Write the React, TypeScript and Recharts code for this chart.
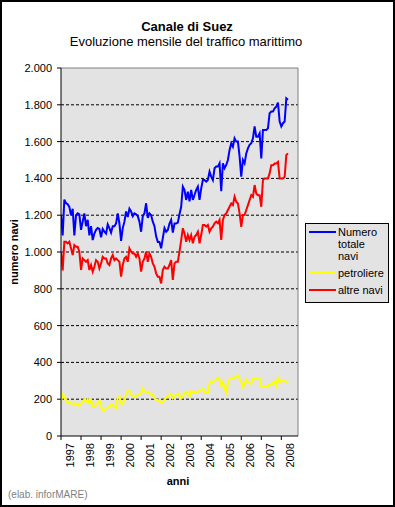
import React from "react";
import { LineChart, Line, XAxis, YAxis, CartesianGrid, ReferenceLine } from "recharts";

const years = ["1997","1998","1999","2000","2001","2002","2003","2004","2005","2006","2007","2008"];
const yTicks = [0, 200, 400, 600, 800, 1000, 1200, 1400, 1600, 1800, 2000];
const gridValues = [200, 400, 600, 800, 1000, 1200, 1400, 1600, 1800];

// Numero totale navi (monthly, Jan 1997 - May 2008)
const totale = [
  1200,1090,1285,1265,1260,1245,1200,1235,1090,1200,1210,1205,
  1120,1165,1210,1140,1175,1090,1140,1065,1100,1120,1130,1125,
  1080,1125,1110,1100,1150,1130,1105,1140,1140,1155,1210,1155,
  1060,1130,1165,1220,1190,1235,1220,1195,1210,1205,1195,1165,
  1110,1195,1210,1265,1185,1210,1200,1165,1140,1085,1055,1055,
  1020,1075,1130,1110,1120,1155,1175,1105,1155,1155,1160,1205,
  1246,1355,1337,1283,1328,1275,1337,1283,1310,1337,1355,1283,
  1346,1391,1391,1382,1391,1437,1410,1391,1455,1464,1464,1482,
  1330,1482,1455,1473,1500,1554,1590,1572,1618,1600,1600,1520,
  1409,1500,1482,1536,1563,1582,1591,1618,1682,1627,1627,1645,
  1509,1663,1663,1663,1672,1754,1763,1763,1781,1790,1812,1709,
  1682,1700,1709,1835,1827
];

// petroliere
const petroliere = [
  187,226,214,199,177,187,177,174,177,172,177,163,
  174,187,199,187,199,177,196,159,159,168,181,192,
  159,141,136,150,154,159,168,168,159,150,210,214,
  177,174,199,232,245,246,223,217,217,217,223,223,
  232,259,246,235,241,232,226,223,205,196,196,190,
  181,183,196,208,217,223,232,205,214,226,232,217,
  205,217,232,237,232,214,246,235,241,235,241,246,
  250,259,237,235,237,286,299,290,301,308,317,304,
  272,295,259,235,283,310,313,313,319,322,331,313,
  295,264,283,308,290,286,283,313,313,313,313,313,
  272,268,268,268,272,283,277,290,295,272,322,290,
  301,301,299,295,286
];

// altre navi
const altre = [
  1000,900,1056,1056,1047,1056,1020,983,1038,1029,1029,1002,
  902,965,956,947,956,902,929,893,920,956,947,911,
  938,974,965,965,938,929,965,983,956,965,956,947,
  866,929,965,974,947,1020,1002,992,992,974,992,965,
  893,947,965,1002,947,992,974,938,920,884,866,866,
  829,902,920,911,911,929,956,848,938,947,947,1002,
  1065,1129,1101,1056,1092,1065,1092,1047,1083,1092,1110,1047,
  1092,1147,1147,1138,1147,1110,1129,1138,1156,1165,1156,1174,
  1065,1174,1201,1210,1228,1246,1264,1255,1301,1273,1264,1210,
  1137,1201,1201,1228,1255,1282,1309,1300,1364,1318,1309,1309,
  1246,1391,1400,1400,1400,1427,1472,1472,1481,1481,1490,1400,
  1400,1400,1409,1527,1536
];

const seriesNames = ["Numero totale navi", "petroliere", "altre navi"];
const seriesKeys = ["totale", "petroliere", "altre"];
const seriesColors = ["#0000FF", "#FFFF00", "#FF0000"];

const data = totale.map((v, i) => ({ m: i, totale: v, petroliere: petroliere[i], altre: altre[i] }));
const xTicks = years.map((_, i) => i * 12);

const FONT = "'Liberation Sans', Arial, sans-serif";

const fmt = (v: number) =>
  v >= 1000 ? `${Math.floor(v / 1000)}.${String(v % 1000).padStart(3, "0")}` : String(v);

const YearTick = (props: any) => {
  const { x, y, payload } = props;
  const label = years[Math.round(payload.value / 12)];
  const tx = x + 13;
  const ty = y;
  return (
    <text x={tx} y={ty} transform={`rotate(-90, ${tx}, ${ty})`} textAnchor="end" fontSize={11} fontFamily={FONT} fill="#000">
      {label}
    </text>
  );
};

export default function App() {
  return (
    <div style={{ position: "absolute", left: 0, top: 0, width: 395, height: 507, background: "#fff", fontFamily: FONT }}>
      <LineChart width={395} height={507} data={data} margin={{ top: 68, right: 97, bottom: 31, left: 0 }}>
        <CartesianGrid
          vertical={false}
          horizontalValues={gridValues}
          fill="#e3e3e3"
          fillOpacity={1}
          stroke="#000"
          strokeDasharray="3 2"
        />
        <ReferenceLine y={2000} stroke="#808080" strokeWidth={1} />
        <ReferenceLine x={142} stroke="#808080" strokeWidth={1} />
        <XAxis
          dataKey="m"
          type="number"
          domain={[0, 142]}
          ticks={xTicks}
          interval={0}
          height={40}
          tickSize={4}
          tickMargin={3}
          tick={<YearTick />}
          axisLine={{ stroke: "#000" }}
          tickLine={{ stroke: "#000" }}
          allowDataOverflow
        />
        <YAxis
          type="number"
          domain={[0, 2000]}
          ticks={yTicks}
          interval={0}
          width={61}
          tickSize={4}
          tickMargin={5}
          tickFormatter={fmt}
          tick={{ fill: "#000", fontSize: 11, fontFamily: FONT }}
          axisLine={{ stroke: "#000" }}
          tickLine={{ stroke: "#000" }}
        />
        {seriesKeys.map((k, i) => (
          <Line
            key={k}
            type="linear"
            dataKey={k}
            name={seriesNames[i]}
            stroke={seriesColors[i]}
            strokeWidth={2}
            dot={false}
            isAnimationActive={false}
          />
        ))}
      </LineChart>

      {/* Legend */}
      <div
        style={{
          position: "absolute",
          left: 305,
          top: 223,
          width: 84,
          height: 80,
          boxSizing: "border-box",
          border: "1px solid #000",
          background: "#e3e3e3",
          paddingTop: 2,
          paddingLeft: 3,
          fontSize: 11,
          lineHeight: "12px",
          color: "#000",
        }}
      >
        {seriesNames.map((n, i) => (
          <div key={n} style={{ display: "flex", alignItems: "flex-start", marginBottom: 5 }}>
            <svg width={27} height={12} style={{ flex: "0 0 27px", marginRight: 2 }}>
              <line x1={0} x2={27} y1={6} y2={6} stroke={seriesColors[i]} strokeWidth={2} />
            </svg>
            <div style={{ width: 48 }}>{n}</div>
          </div>
        ))}
      </div>

      {/* Titles, axis labels, frame */}
      <svg width={395} height={507} style={{ position: "absolute", left: 0, top: 0, pointerEvents: "none" }}>
        <text x={187} y={31} textAnchor="middle" fontSize={13} fontWeight="bold" fontFamily={FONT} fill="#000">
          Canale di Suez
        </text>
        <text x={186} y={46} textAnchor="middle" fontSize={13} fontFamily={FONT} fill="#000">
          Evoluzione mensile del traffico marittimo
        </text>
        <text x={18} y={252} transform="rotate(-90, 18, 252)" textAnchor="middle" fontSize={11} fontWeight="bold" fontFamily={FONT} fill="#000">
          numero navi
        </text>
        <text x={178} y={485} textAnchor="middle" fontSize={11} fontWeight="bold" fontFamily={FONT} fill="#000">
          anni
        </text>
        <text x={8} y={498} fontSize={10} fontFamily={FONT} fill="#808080">
          (elab. inforMARE)
        </text>
        <rect x={1} y={1} width={393} height={505} fill="none" stroke="#000" strokeWidth={2} />
      </svg>
    </div>
  );
}
